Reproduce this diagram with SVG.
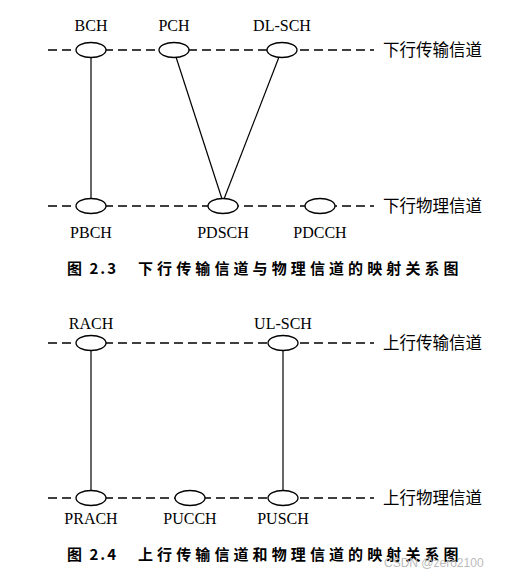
<svg xmlns="http://www.w3.org/2000/svg" width="507" height="577" viewBox="0 0 507 577">
<style>
.bg{fill:#fff}
.dash{stroke:#000;stroke-width:1.3;stroke-dasharray:9 5;fill:none}
.ell{fill:#fff;stroke:#000;stroke-width:1.3}
.conn{stroke:#000;stroke-width:1.2;fill:none}
.lab{font-family:"Liberation Serif",serif;font-size:16px;fill:#000;text-anchor:middle;dominant-baseline:central}
.cn{font-family:"Liberation Serif","Noto Sans CJK SC",serif;font-size:16.5px;fill:#000;dominant-baseline:central}
.cap{font-family:"Noto Sans CJK SC",sans-serif;font-size:15px;font-weight:bold;fill:#000;dominant-baseline:central}
.cap1{letter-spacing:2px}
.cap2{letter-spacing:4.1px}
.wm{font-family:"Liberation Sans",sans-serif;font-size:12px;fill:#bbb;dominant-baseline:central}
</style>
<rect class="bg" width="507" height="577"/>
<g id="connectors">
<line class="dash" x1="48" y1="50" x2="374" y2="50"/>
<line class="dash" x1="48" y1="206" x2="374" y2="206"/>
<line class="dash" x1="48" y1="343" x2="374" y2="343"/>
<line class="dash" x1="48" y1="498" x2="374" y2="498"/>
<line class="conn" x1="91" y1="57" x2="91" y2="199"/>
<line class="conn" x1="176" y1="57" x2="222" y2="199"/>
<line class="conn" x1="279" y1="57" x2="224" y2="199"/>
<line class="conn" x1="91" y1="350" x2="91" y2="491"/>
<line class="conn" x1="283" y1="350" x2="283" y2="491"/>
</g>
<g id="BCH"><ellipse class="ell" cx="91" cy="50" rx="15" ry="7.5"/><text class="lab" x="91" y="25">BCH</text></g>
<g id="PCH"><ellipse class="ell" cx="174" cy="50" rx="15" ry="7.5"/><text class="lab" x="174" y="25">PCH</text></g>
<g id="DL-SCH"><ellipse class="ell" cx="282" cy="50" rx="15" ry="7.5"/><text class="lab" x="282" y="25">DL-SCH</text></g>
<g id="PBCH"><ellipse class="ell" cx="91" cy="206" rx="15" ry="7.5"/><text class="lab" x="91" y="232">PBCH</text></g>
<g id="PDSCH"><ellipse class="ell" cx="223" cy="206" rx="15" ry="7.5"/><text class="lab" x="223" y="232">PDSCH</text></g>
<g id="PDCCH"><ellipse class="ell" cx="320" cy="206" rx="15" ry="7.5"/><text class="lab" x="320" y="232">PDCCH</text></g>
<g id="dl-transport"><text class="cn" x="383" y="50">下行传输信道</text></g>
<g id="dl-physical"><text class="cn" x="383" y="206">下行物理信道</text></g>
<g id="caption1"><text class="cap"><tspan class="cap1" x="67" y="267">图 2.3</tspan><tspan class="cap2" x="138" y="267">下行传输信道与物理信道的映射关系图</tspan></text></g>
<g id="RACH"><ellipse class="ell" cx="91" cy="343" rx="15" ry="7.5"/><text class="lab" x="91" y="323">RACH</text></g>
<g id="UL-SCH"><ellipse class="ell" cx="283" cy="343" rx="15" ry="7.5"/><text class="lab" x="283" y="323">UL-SCH</text></g>
<g id="PRACH"><ellipse class="ell" cx="91" cy="498" rx="15" ry="7.5"/><text class="lab" x="91" y="518">PRACH</text></g>
<g id="PUCCH"><ellipse class="ell" cx="190" cy="498" rx="15" ry="7.5"/><text class="lab" x="190" y="518">PUCCH</text></g>
<g id="PUSCH"><ellipse class="ell" cx="283" cy="498" rx="15" ry="7.5"/><text class="lab" x="283" y="518">PUSCH</text></g>
<g id="ul-transport"><text class="cn" x="383" y="343">上行传输信道</text></g>
<g id="ul-physical"><text class="cn" x="383" y="498">上行物理信道</text></g>
<g id="caption2"><text class="cap"><tspan class="cap1" x="67" y="553">图 2.4</tspan><tspan class="cap2" x="138" y="553">上行传输信道和物理信道的映射关系图</tspan></text></g>
<text class="wm" x="384" y="563">CSDN @zero2100</text>
</svg>
